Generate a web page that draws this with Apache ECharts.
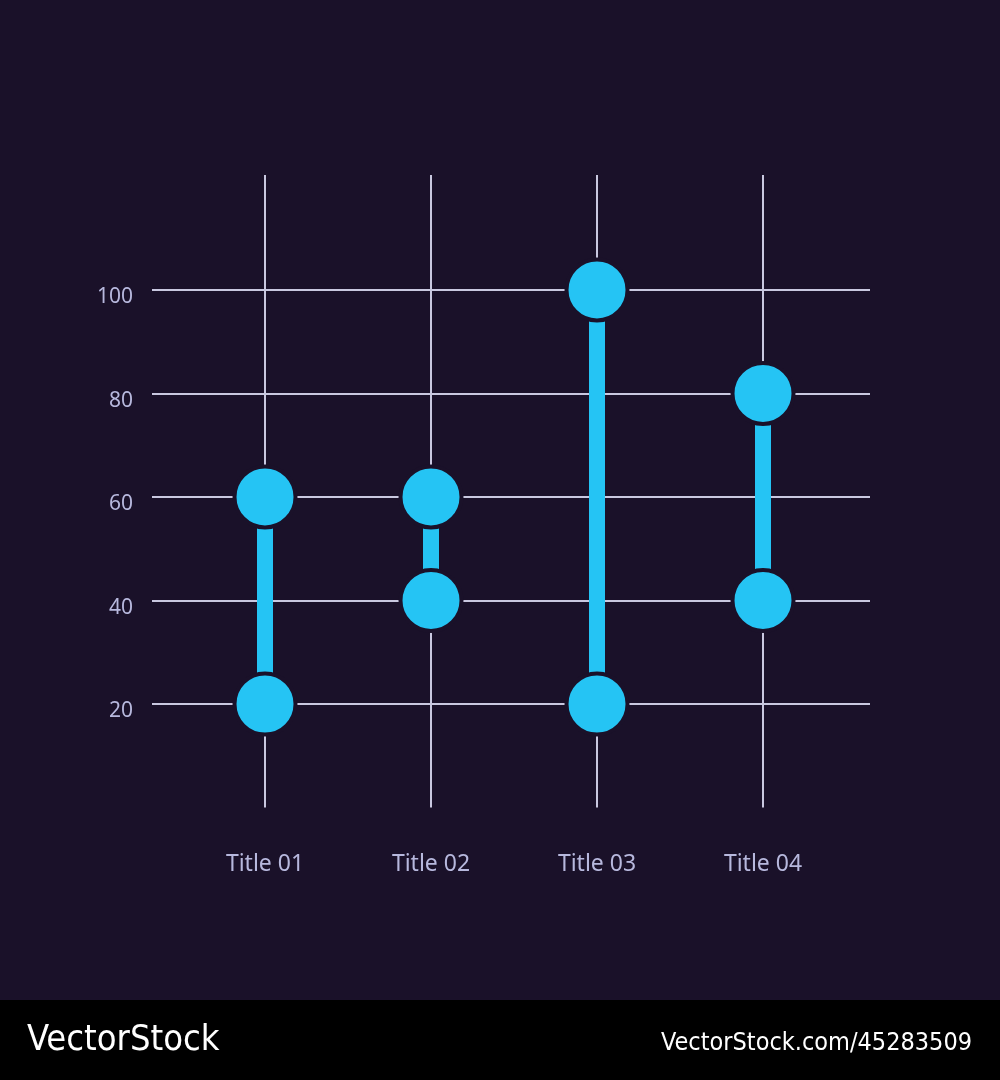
<!DOCTYPE html>
<html>
<head>
<meta charset="utf-8">
<title>Range dot chart</title>
<style>
  html, body { margin: 0; padding: 0; background: #1a1129; }
  #main { width: 1000px; height: 1080px; }
</style>
</head>
<body>
<div id="main"></div>
<script src="https://cdn.jsdelivr.net/npm/echarts@6/dist/echarts.min.js"></script>
<script>
// data
var categories = ['Title 01', 'Title 02', 'Title 03', 'Title 04'];
var lowValues = [20, 40, 20, 40];
var highValues = [60, 60, 100, 80];
var yTicks = [20, 40, 60, 80, 100];

var bg = '#1a1129';
var lineColor = '#c9c8e0';
var labelColor = '#b7b8dd';
var dotColor = '#25c4f4';
var font = '"Noto Sans", sans-serif';

var myChart = echarts.init(document.getElementById('main'));

// bar part = high - low, stacked on a transparent base
var spans = highValues.map(function (h, i) { return h - lowValues[i]; });
var dots = [];
categories.forEach(function (c, i) {
    dots.push([c, lowValues[i]]);
    dots.push([c, highValues[i]]);
});

var option = {
    backgroundColor: bg,
    animation: false,
    grid: [
        // categories grid: vertical lines run a bit past 120
        { left: 265, right: 237, top: 175, bottom: 272.5 },
        // wider grid only for the horizontal lines + y labels
        { left: 152, right: 130, top: 186.5, bottom: 272.5 }
    ],
    xAxis: [
        {
            gridIndex: 0,
            type: 'category',
            boundaryGap: false,
            data: categories,
            axisLine: { show: false },
            axisTick: { show: false },
            axisLabel: {
                color: labelColor, fontFamily: font, fontSize: 23, margin: 45
            },
            splitLine: { show: true, lineStyle: { color: lineColor, width: 2 } }
        },
        {
            gridIndex: 1,
            type: 'value',
            show: false
        }
    ],
    yAxis: [
        {
            gridIndex: 0,
            type: 'value',
            min: 0, max: 122.2,
            show: false
        },
        {
            gridIndex: 1,
            type: 'value',
            min: 0, max: 120, interval: 20,
            axisLine: { show: false },
            axisTick: { show: false },
            axisLabel: {
                color: labelColor, fontFamily: font, fontSize: 21, margin: 19,
                verticalAlign: 'top', lineHeight: 15,
                formatter: function (v) { return yTicks.indexOf(v) >= 0 ? v : ''; }
            },
            splitLine: {
                show: true, showMinLine: false, showMaxLine: false,
                lineStyle: { color: lineColor, width: 2 }
            }
        }
    ],
    series: [
        {
            type: 'bar', stack: 'r', xAxisIndex: 0, yAxisIndex: 0,
            data: lowValues, barWidth: 16,
            itemStyle: { color: 'transparent' }, silent: true
        },
        {
            type: 'bar', stack: 'r', xAxisIndex: 0, yAxisIndex: 0,
            data: spans, barWidth: 16,
            itemStyle: { color: dotColor }
        },
        {
            type: 'scatter', xAxisIndex: 0, yAxisIndex: 0,
            data: dots, symbolSize: 61, z: 5,
            itemStyle: { color: dotColor, borderColor: bg, borderWidth: 4, opacity: 1 }
        }
    ],
    graphic: [
        {
            type: 'rect', left: 0, top: 1000, z: 10,
            shape: { width: 1000, height: 80 },
            style: { fill: '#000' }
        },
        {
            type: 'text', left: 27, top: 1023, z: 11,
            style: {
                text: 'VectorStock', fill: '#fff',
                font: '36px "Liberation Sans Narrow", "DejaVu Sans Condensed", sans-serif'
            }
        },
        {
            type: 'text', right: 28, top: 1031, z: 11,
            style: {
                text: 'VectorStock.com/45283509', fill: '#fff',
                font: '25px "Liberation Sans Narrow", "DejaVu Sans Condensed", sans-serif'
            }
        }
    ]
};

myChart.setOption(option);
</script>
</body>
</html>
